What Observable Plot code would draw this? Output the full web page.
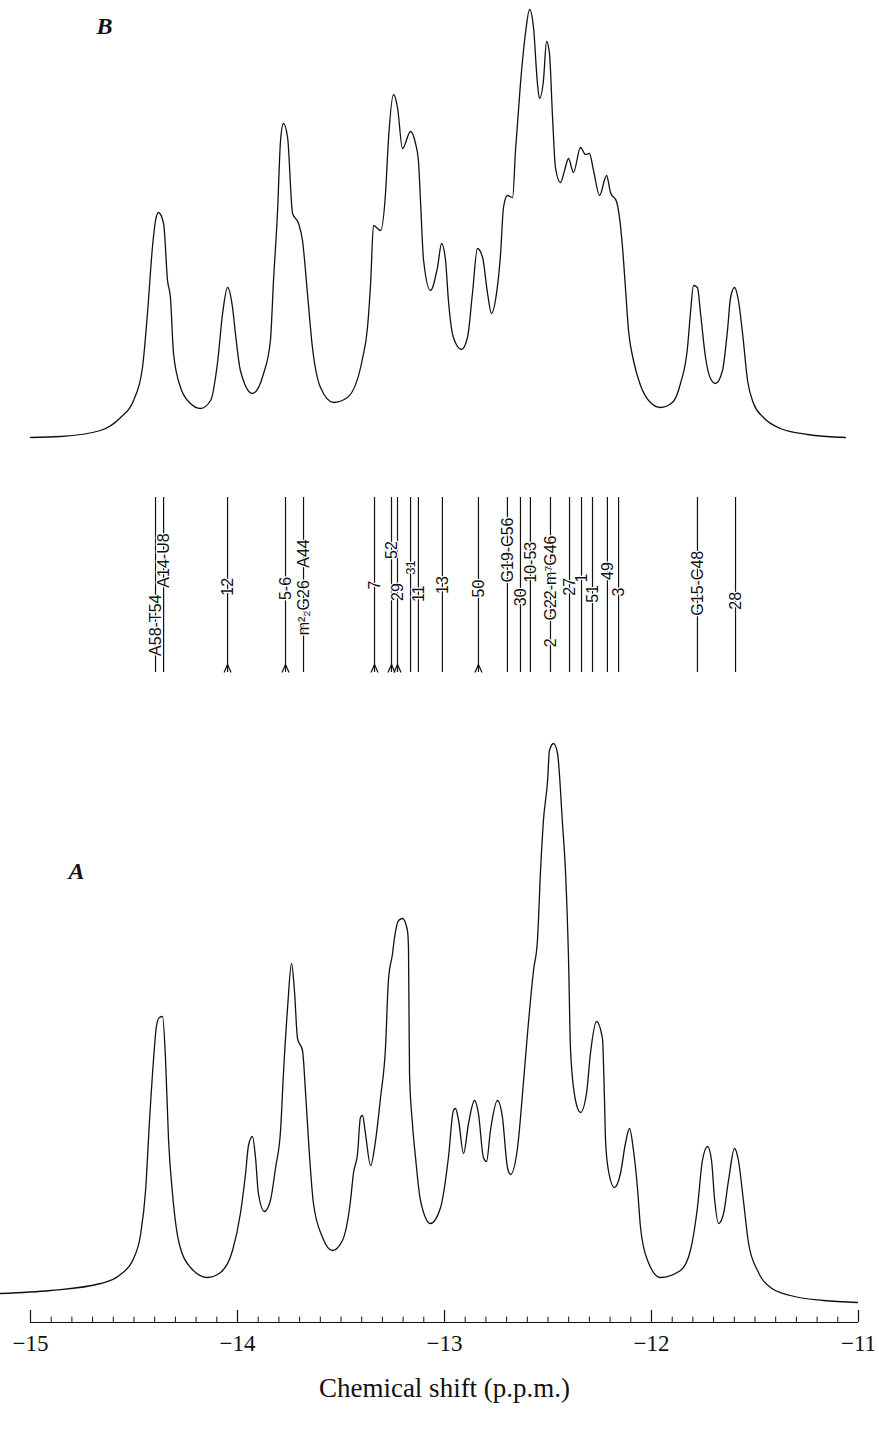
<!DOCTYPE html>
<html><head><meta charset="utf-8">
<script src="https://cdn.jsdelivr.net/npm/d3@7"></script>
<script src="https://cdn.jsdelivr.net/npm/@observablehq/plot@0.6"></script>
<style>
body{margin:0;background:#fff;}
#wrap{position:relative;width:879px;height:1432px;background:#fff;overflow:hidden;}
#wrap > div{position:absolute;left:0;}
svg{overflow:visible;}
</style></head><body><div id="wrap">
<div id="pb" style="top:0px"></div>
<div id="ps" style="top:480px"></div>
<div id="pa" style="top:700px"></div>
<div id="px" style="top:1300px"></div>
</div>
<script>
// Spectrum B: [chemical shift (p.p.m.), intensity]
const spectrumB = [
[-15.000,3],[-14.855,4],[-14.662,10],[-14.565,23],[-14.502,40],[-14.459,73],[-14.435,127],[-14.411,193],[-14.396,220],[-14.382,228],[-14.357,217],[-14.338,160],[-14.324,143],[-14.309,87],[-14.275,53],[-14.227,37],[-14.179,32],[-14.130,40],[-14.097,77],[-14.072,127],[-14.048,153],[-14.024,133],[-14.010,107],[-13.986,70],[-13.928,47],[-13.874,67],[-13.841,100],[-13.826,160],[-13.807,227],[-13.792,300],[-13.778,317],[-13.758,303],[-13.734,227],[-13.705,217],[-13.686,200],[-13.662,147],[-13.638,93],[-13.599,53],[-13.536,38],[-13.469,43],[-13.396,82],[-13.372,113],[-13.357,157],[-13.343,215],[-13.309,210],[-13.285,247],[-13.271,300],[-13.246,346],[-13.227,333],[-13.203,292],[-13.164,309],[-13.140,297],[-13.126,280],[-13.116,240],[-13.101,180],[-13.068,150],[-13.034,173],[-13.014,197],[-12.995,180],[-12.981,140],[-12.957,103],[-12.918,91],[-12.889,103],[-12.865,147],[-12.841,192],[-12.816,183],[-12.792,147],[-12.773,127],[-12.754,140],[-12.729,187],[-12.715,233],[-12.696,245],[-12.671,243],[-12.657,290],[-12.633,357],[-12.609,407],[-12.589,431],[-12.570,413],[-12.551,357],[-12.541,342],[-12.522,360],[-12.507,399],[-12.493,387],[-12.478,323],[-12.464,273],[-12.440,258],[-12.420,270],[-12.401,282],[-12.377,268],[-12.343,293],[-12.319,286],[-12.300,287],[-12.280,270],[-12.251,245],[-12.217,265],[-12.198,248],[-12.169,239],[-12.140,193],[-12.126,153],[-12.111,110],[-12.087,80],[-12.053,55],[-12.005,38],[-11.957,33],[-11.899,38],[-11.860,57],[-11.826,93],[-11.812,127],[-11.797,155],[-11.778,153],[-11.763,127],[-11.739,83],[-11.715,62],[-11.691,57],[-11.657,70],[-11.633,110],[-11.618,143],[-11.599,153],[-11.580,140],[-11.560,107],[-11.536,60],[-11.507,37],[-11.459,23],[-11.377,12],[-11.246,6],[-11.063,3]
];
// Spectrum A: [chemical shift (p.p.m.), intensity]
const spectrumA = [
[-15.145,17],[-14.903,20],[-14.662,27],[-14.565,36],[-14.502,52],[-14.469,75],[-14.444,120],[-14.425,190],[-14.406,250],[-14.391,285],[-14.377,293],[-14.362,294],[-14.348,253],[-14.333,170],[-14.314,117],[-14.285,70],[-14.227,43],[-14.145,33],[-14.082,38],[-14.024,60],[-13.986,97],[-13.961,137],[-13.947,165],[-13.928,174],[-13.913,153],[-13.899,117],[-13.870,99],[-13.841,110],[-13.816,143],[-13.792,180],[-13.778,237],[-13.758,303],[-13.739,347],[-13.725,320],[-13.710,272],[-13.686,260],[-13.671,217],[-13.657,170],[-13.633,107],[-13.589,73],[-13.541,60],[-13.493,70],[-13.454,110],[-13.440,137],[-13.420,157],[-13.406,193],[-13.396,195],[-13.382,177],[-13.357,145],[-13.333,170],[-13.309,213],[-13.285,263],[-13.271,330],[-13.251,357],[-13.242,372],[-13.222,390],[-13.203,392],[-13.179,380],[-13.174,363],[-13.169,237],[-13.155,187],[-13.140,153],[-13.116,110],[-13.068,87],[-13.019,103],[-12.981,153],[-12.957,200],[-12.947,202],[-12.932,190],[-12.908,157],[-12.884,187],[-12.855,210],[-12.836,197],[-12.812,153],[-12.797,149],[-12.778,180],[-12.744,210],[-12.720,193],[-12.696,143],[-12.681,136],[-12.647,163],[-12.623,217],[-12.599,277],[-12.570,340],[-12.551,370],[-12.536,440],[-12.522,490],[-12.502,530],[-12.493,560],[-12.473,567],[-12.454,557],[-12.430,487],[-12.415,437],[-12.401,353],[-12.391,260],[-12.367,210],[-12.343,198],[-12.314,217],[-12.295,257],[-12.266,289],[-12.237,272],[-12.227,210],[-12.222,170],[-12.208,140],[-12.179,123],[-12.150,137],[-12.126,167],[-12.106,182],[-12.087,160],[-12.068,123],[-12.053,83],[-12.019,50],[-11.957,33],[-11.860,40],[-11.812,60],[-11.778,103],[-11.754,150],[-11.729,164],[-11.710,150],[-11.696,113],[-11.676,87],[-11.652,97],[-11.628,130],[-11.599,162],[-11.580,150],[-11.556,110],[-11.531,67],[-11.488,40],[-11.425,23],[-11.329,15],[-11.169,10],[-11.005,8]
];
// Assignment sticks (p.p.m.)
const stickShift = [-14.396,-14.357,-14.048,-13.768,-13.681,-13.338,-13.256,-13.227,-13.164,-13.126,-13.010,-12.836,-12.696,-12.633,-12.585,-12.488,-12.396,-12.338,-12.285,-12.213,-12.159,-11.778,-11.594];
const stickArrow = [false,false,true,true,false,true,true,true,false,false,false,true,false,false,false,false,false,false,false,false,false,false,false];
const labelText = ["A58-T54","A14-U8","12","5-6","A44","m\u00B2\u2082G26","7","52","29","31","11","13","50","G19-C56","30","10-53","G22-m\u2077G46","2","27","1","51","49","3","G15-C48","28"];
const labelStick = [0,1,2,3,4,4,5,6,7,8,9,10,11,12,13,14,15,15,16,17,18,19,20,21,22];
// layout: label position along the stick (0 = top, 100 = bottom) and size
const labelPos = [73,36,51,52,32,63,50,30,54,40,55,50,52,30,57,37,46,83,51,46,55,42,54,49,59];
const labelSize = [16,16,16,16,16,16,16,16,16,13,16,16,16,16,16,16,16,16,16,16,16,16,16,16,16];
// Axis
const majorTicks = [-15,-14,-13,-12,-11];
const tickLabels = ["\u221215","\u221214","\u221213","\u221212","\u221211"];
const minorTicks = d3.range(-150, -109).map(v => v / 10);
const axisTitle = "Chemical shift (p.p.m.)";

const W = 879, ML = 30, MR = 21;
const xs = {domain: [-15, -11], axis: null};
const ink = "#111";
const serif = "'Liberation Serif','Times New Roman',Times,serif";
const sans = "'Liberation Sans',Arial,Helvetica,sans-serif";

const chevron = {draw(ctx) { ctx.moveTo(-3.5, 4.5); ctx.lineTo(0, -3.5); ctx.lineTo(3.5, 4.5); }};

const pb = Plot.plot({
  width: W, height: 450, marginLeft: ML, marginRight: MR, marginTop: 0, marginBottom: 10,
  x: xs, y: {domain: [0, 440], axis: null},
  style: {background: "transparent", overflow: "visible"},
  marks: [
    Plot.line(spectrumB, {x: d => d[0], y: d => d[1], curve: "monotone-x", stroke: ink, strokeWidth: 1.3}),
    Plot.text(["B"], {frameAnchor: "top-left", dx: 66, dy: 16, lineAnchor: "top", textAnchor: "start",
      fontFamily: serif, fontWeight: "bold", fontStyle: "italic", fontSize: 24, fill: ink})
  ]
});
document.getElementById("pb").appendChild(pb);

const ps = Plot.plot({
  width: W, height: 200, marginLeft: ML, marginRight: MR, marginTop: 17, marginBottom: 8,
  x: xs, y: {domain: [0, 100], reverse: true, axis: null},
  style: {background: "transparent", overflow: "visible"},
  marks: [
    Plot.ruleX(stickShift, {x: d => d, y1: 0, y2: 100, stroke: ink, strokeWidth: 1.2}),
    Plot.dot(stickShift.filter((d, i) => stickArrow[i]), {x: d => d, y: 100, dy: -4.5, symbol: chevron,
      r: 4, fill: "none", stroke: ink, strokeWidth: 1.2}),
    Plot.text(labelText, {
      text: d => d,
      x: (d, i) => stickShift[labelStick[i]],
      y: (d, i) => labelPos[i],
      fontSize: (d, i) => labelSize[i],
      rotate: -90, fontFamily: sans, fill: ink, stroke: "white", strokeWidth: 2.5
    })
  ]
});
document.getElementById("ps").appendChild(ps);

const pa = Plot.plot({
  width: W, height: 610, marginLeft: ML, marginRight: MR, marginTop: 0, marginBottom: 0,
  x: xs, y: {domain: [0, 610], axis: null},
  style: {background: "transparent", overflow: "visible"},
  marks: [
    Plot.line(spectrumA, {x: d => d[0], y: d => d[1], curve: "monotone-x", stroke: ink, strokeWidth: 1.3}),
    Plot.text(["A"], {frameAnchor: "top-left", dx: 38, dy: 161, lineAnchor: "top", textAnchor: "start",
      fontFamily: serif, fontWeight: "bold", fontStyle: "italic", fontSize: 24, fill: ink})
  ]
});
document.getElementById("pa").appendChild(pa);

const px = Plot.plot({
  width: W, height: 132, marginLeft: ML, marginRight: MR, marginTop: 10, marginBottom: 110,
  x: {domain: [-15, -11]}, y: {domain: [0, 1], axis: null},
  style: {background: "transparent", overflow: "visible"},
  marks: [
    Plot.ruleY([0], {stroke: ink, strokeWidth: 1.2}),
    Plot.ruleX(minorTicks, {x: d => d, y1: 0, y2: 0.45, stroke: ink, strokeWidth: 1}),
    Plot.ruleX(majorTicks, {x: d => d, y1: 0, y2: 1, stroke: ink, strokeWidth: 1.2}),
    Plot.axisX(majorTicks, {tickSize: 0, tickPadding: 12, fontSize: 23, fontFamily: serif,
      tickFormat: (d, i) => tickLabels[i], label: null, fill: ink}),
    Plot.text([axisTitle], {frameAnchor: "bottom", dy: 66, lineAnchor: "middle", fontSize: 27, fontFamily: serif, fill: ink})
  ]
});
document.getElementById("px").appendChild(px);
</script>
</body></html>
